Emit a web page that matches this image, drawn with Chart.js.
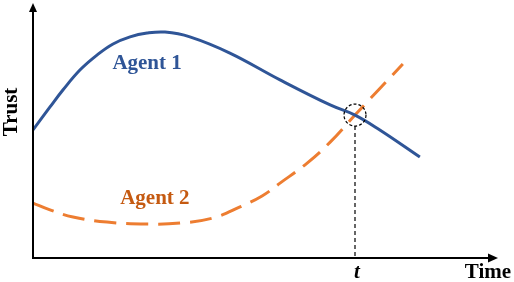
<!DOCTYPE html>
<html>
<head>
<meta charset="utf-8">
<script src="https://cdn.jsdelivr.net/npm/chart.js@4"></script>
<style>
  html, body { margin: 0; padding: 0; background: #fff; }
  #wrap { width: 514px; height: 282px; }
</style>
</head>
<body>
<div id="wrap"><canvas id="trustChart"></canvas></div>
<script>
// time axis runs 0..10, trust 0..10 (no ticks shown)
const agent1Time  = [0, 0.37, 0.65, 1.02, 1.39, 1.74, 2.11, 2.48, 2.87, 3.41, 4.28, 5.37, 6.46, 7.0, 7.54, 8.41];
const agent1Trust = [5.06, 5.97, 6.64, 7.43, 8.02, 8.46, 8.74, 8.89, 8.93, 8.74, 8.1, 7.04, 6.05, 5.65, 5.06, 3.99];
const agent2Time  = [0, 0.37, 0.87, 1.61, 2.48, 3.2, 3.91, 4.5, 4.98, 5.37, 5.96, 6.46, 7.0, 8.04];
const agent2Trust = [2.17, 1.9, 1.62, 1.42, 1.34, 1.38, 1.58, 2.02, 2.45, 2.96, 3.75, 4.58, 5.65, 7.67];
const crossTime = 7.0;
const crossTrust = 5.65;

const blue = '#2F5597';
const orange = '#ED7D31';

const toPoints = (xs, ys) => xs.map((x, i) => ({ x: x, y: ys[i] }));

function arrow(c, x, y, dir) {
   c.beginPath();
   if (dir === 'up') {
      c.moveTo(x, y); c.lineTo(x - 4, y + 9); c.lineTo(x + 4, y + 9);
   } else {
      c.moveTo(x, y); c.lineTo(x - 10, y - 4.5); c.lineTo(x - 10, y + 4.5);
   }
   c.closePath();
   c.fill();
}

const serif = '"Liberation Serif", "Times New Roman", serif';

const decorations = {
   id: 'decorations',
   afterDatasetsDraw(chart) {
      const c = chart.ctx;
      const xs = chart.scales.x, ys = chart.scales.y;
      const left = xs.getPixelForValue(0), bottom = ys.getPixelForValue(0);
      c.save();

      // axes with arrow heads
      c.strokeStyle = '#000'; c.fillStyle = '#000'; c.lineWidth = 2;
      c.beginPath();
      c.moveTo(left, 6); c.lineTo(left, bottom);
      c.lineTo(490, bottom);
      c.stroke();
      arrow(c, left, 3, 'up');
      arrow(c, 498, bottom, 'right');

      // crossing marker and drop line
      const cx = xs.getPixelForValue(crossTime), cy = ys.getPixelForValue(crossTrust);
      c.lineWidth = 1.2;
      c.setLineDash([3, 2]);
      c.beginPath(); c.arc(cx, cy, 11, 0, Math.PI * 2); c.stroke();
      c.setLineDash([4, 3]);
      c.beginPath(); c.moveTo(cx, cy + 11); c.lineTo(cx, bottom); c.stroke();
      c.setLineDash([]);

      // texts
      c.textAlign = 'center'; c.textBaseline = 'middle';
      c.font = 'bold 21px ' + serif;
      c.fillStyle = blue;
      c.fillText('Agent 1', xs.getPixelForValue(2.48), ys.getPixelForValue(7.7));
      c.fillStyle = '#C55A11';
      c.fillText('Agent 2', xs.getPixelForValue(2.65), ys.getPixelForValue(2.35));
      c.fillStyle = '#000';
      c.fillText('Time', 488, 273);
      c.font = 'italic bold 21px ' + serif;
      c.fillText('t', cx + 2, 273);
      c.translate(12, 112);
      c.rotate(-Math.PI / 2);
      c.font = 'bold 21px ' + serif;
      c.fillText('Trust', 0, 0);
      c.restore();
   }
};

const ctx = document.getElementById('trustChart').getContext('2d');

new Chart(ctx, {
   type: 'line',
   data: {
      datasets: [
         {
            label: 'Agent 1',
            data: toPoints(agent1Time, agent1Trust),
            borderColor: blue,
            borderWidth: 3,
            pointRadius: 0,
            tension: 0.4,
            fill: false,
         },
         {
            label: 'Agent 2',
            data: toPoints(agent2Time, agent2Trust),
            borderColor: orange,
            borderWidth: 3,
            borderDash: [22, 10],
            pointRadius: 0,
            tension: 0.4,
            fill: false,
         },
      ],
   },
   options: {
      responsive: true,
      maintainAspectRatio: false,
      animation: false,
      layout: { padding: { left: 33, right: 21, top: 5, bottom: 24 } },
      scales: {
         x: { type: 'linear', min: 0, max: 10, display: false },
         y: { min: 0, max: 10, display: false },
      },
      plugins: {
         legend: { display: false },
         tooltip: { enabled: false },
      },
   },
   plugins: [decorations],
});
</script>
</body>
</html>
